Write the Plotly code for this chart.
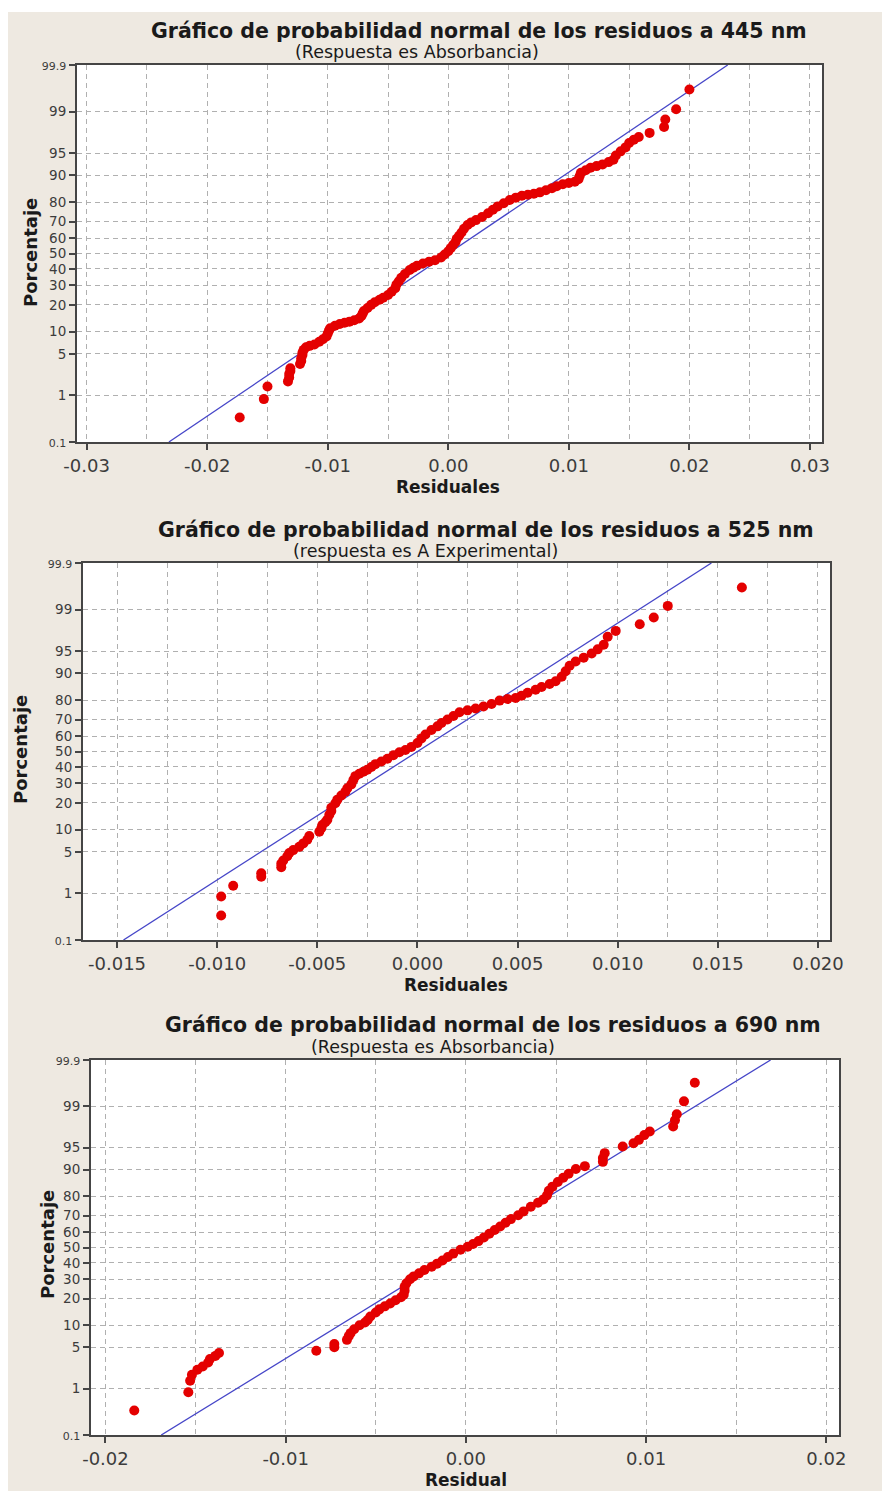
from statistics import NormalDist
import plotly.graph_objects as go

# ---------------------------------------------------------------- data
# Residuals (x) and cumulative percentage (y) for each wavelength
res_445 = [-0.0173, -0.0153, -0.0150, -0.0133, -0.0132, -0.0132, -0.0131, -0.0131, -0.0123, -0.0122,
           -0.0122, -0.0121, -0.0121, -0.0120, -0.0118, -0.0115, -0.0111, -0.0107, -0.0104, -0.0101,
           -0.0100, -0.0099, -0.0098, -0.0094, -0.0090, -0.0086, -0.0082, -0.0078, -0.0074, -0.0072,
           -0.0071, -0.0070, -0.0067, -0.0064, -0.0061, -0.0057, -0.0054, -0.0050, -0.0047, -0.0044,
           -0.0043, -0.0041, -0.0039, -0.0036, -0.0032, -0.0029, -0.0026, -0.0021, -0.0016, -0.0011,
           -0.0006, -0.0003, 0.0000, 0.0002, 0.0004, 0.0006, 0.0007, 0.0009, 0.0011, 0.0013,
           0.0016, 0.0019, 0.0023, 0.0028, 0.0033, 0.0037, 0.0041, 0.0046, 0.0051, 0.0056,
           0.0061, 0.0066, 0.0071, 0.0076, 0.0081, 0.0086, 0.0090, 0.0095, 0.0100, 0.0105,
           0.0108, 0.0109, 0.0110, 0.0114, 0.0118, 0.0123, 0.0128, 0.0133, 0.0137, 0.0139,
           0.0143, 0.0147, 0.0150, 0.0154, 0.0158, 0.0167, 0.0179, 0.0180, 0.0189, 0.0200]
pct_445 = [0.36, 0.85, 1.46, 1.8, 2.1, 2.4, 2.7, 3.0, 3.5, 3.9,
           4.3, 4.8, 5.2, 5.7, 6.2, 6.5, 6.8, 7.4, 8.0, 8.7,
           9.5, 10.3, 11.0, 11.8, 12.4, 12.8, 13.2, 13.7, 14.3, 15.3,
           16.3, 17.3, 18.6, 20.0, 21.2, 22.4, 23.4, 24.8, 26.5, 28.5,
           30.5, 32.5, 34.5, 36.8, 39.3, 40.8, 42.0, 43.5, 44.6, 45.6,
           47.4, 49.3, 51.5, 53.5, 55.5, 57.5, 59.5, 61.5, 63.5, 65.8,
           68.0, 69.5, 70.8, 72.5, 74.5, 76.3, 78.0, 79.5, 81.0, 82.0,
           82.8, 83.2, 83.6, 84.2, 85.0, 85.8, 86.5, 87.2, 87.6, 88.0,
           88.8, 89.8, 90.7, 91.4, 92.0, 92.4, 92.8, 93.3, 93.8, 94.6,
           95.3, 95.9, 96.5, 96.9, 97.2, 97.6, 98.1, 98.6, 99.1, 99.64]

res_525 = [-0.0098, -0.0098, -0.0092, -0.0078, -0.0078, -0.0068, -0.0068, -0.0067, -0.0065, -0.0064,
           -0.0062, -0.0059, -0.0057, -0.0055, -0.0054, -0.0049, -0.0048, -0.00475, -0.0046, -0.0045,
           -0.0044, -0.0043, -0.0043, -0.0041, -0.0040, -0.0038, -0.0036, -0.0035, -0.0033, -0.0032,
           -0.0031, -0.0029, -0.0027, -0.0025, -0.0023, -0.0021, -0.0018, -0.0015, -0.0012, -0.0009,
           -0.0006, -0.0003, 0.0000, 0.0002, 0.0004, 0.0007, 0.0010, 0.0012, 0.0015, 0.0018,
           0.0021, 0.0025, 0.0029, 0.0033, 0.0037, 0.0041, 0.0045, 0.0049, 0.0052, 0.0055,
           0.0059, 0.0062, 0.0066, 0.0069, 0.0072, 0.0074, 0.0076, 0.0079, 0.0083, 0.0087,
           0.0090, 0.0093, 0.0095, 0.0099, 0.0111, 0.0118, 0.0125, 0.0162]
pct_525 = [0.36, 0.87, 1.39, 2.0, 2.3, 2.9, 3.3, 3.7, 4.3, 4.8,
           5.3, 5.9, 6.6, 7.4, 8.3, 9.4, 10.4, 11.4, 12.3, 13.2,
           15.0, 16.5, 17.8, 19.8, 21.5, 23.5, 25.5, 27.3, 29.5, 32.0,
           34.3, 35.8, 37.0, 38.3, 40.0, 41.8, 43.5, 45.3, 47.5, 49.5,
           51.0, 53.0, 55.5, 58.5, 61.0, 63.8, 66.0, 68.0, 70.0, 72.0,
           74.0, 75.0, 76.0, 77.0, 78.2, 79.8, 80.5, 81.0, 82.0, 83.2,
           84.4, 85.5, 86.6, 87.5, 89.0, 90.6, 92.0, 93.0, 93.8, 94.6,
           95.3, 96.0, 97.0, 97.6, 98.15, 98.6, 99.15, 99.64]

res_690 = [-0.0184, -0.0154, -0.0153, -0.0152, -0.0149, -0.0146, -0.0143, -0.0142, -0.0139, -0.0137,
           -0.0083, -0.0073, -0.0073, -0.0066, -0.0065, -0.0064, -0.0062, -0.0059, -0.0056, -0.00545,
           -0.0053, -0.0050, -0.0048, -0.0045, -0.0042, -0.0039, -0.0036, -0.00345, -0.0034, -0.0034,
           -0.0033, -0.0031, -0.0029, -0.0026, -0.0023, -0.0019, -0.0016, -0.0013, -0.0010, -0.0007,
           -0.0003, 0.0001, 0.0004, 0.0007, 0.0010, 0.0013, 0.0016, 0.0019, 0.0022, 0.0025,
           0.0029, 0.0032, 0.0036, 0.0040, 0.0043, 0.0045, 0.0046, 0.0048, 0.0051, 0.0054,
           0.0057, 0.0061, 0.0066, 0.0076, 0.0076, 0.0077, 0.0087, 0.0093, 0.0096, 0.0099,
           0.0102, 0.0115, 0.0116, 0.0117, 0.0121, 0.0127]
pct_690 = [0.36, 0.85, 1.4, 1.8, 2.2, 2.5, 2.9, 3.3, 3.7, 4.1,
           4.45, 5.0, 5.6, 6.4, 7.2, 7.9, 8.9, 10.0, 10.8, 11.6,
           12.8, 14.2, 15.4, 16.6, 17.8, 19.2, 20.6, 21.8, 23.8, 25.8,
           27.8, 30.0, 31.7, 33.5, 35.5, 37.6, 39.5, 41.5, 43.8, 46.0,
           48.5, 50.5, 52.3, 54.2, 56.5, 59.0, 61.3, 63.5, 65.8, 68.0,
           70.2, 72.4, 74.9, 77.0, 78.6, 80.5, 82.5, 84.2, 86.0, 87.5,
           88.8, 90.2, 91.0, 92.1, 93.0, 94.0, 95.2, 95.7, 96.2, 96.8,
           97.2, 97.7, 98.2, 98.6, 99.2, 99.67]

# Fitted normal distribution (mean, standard deviation) of each residual set
fit_445 = (0.0, 0.0075)
fit_525 = (0.0, 0.00475)
fit_690 = (0.0, 0.00547)

# Probability-scale ticks
pct_ticks = [0.1, 1, 5, 10, 20, 30, 40, 50, 60, 70, 80, 90, 95, 99, 99.9]
pct_labels = ["0.1", "1", "5", "10", "20", "30", "40", "50", "60", "70", "80", "90", "95", "99", "99.9"]

x_ticks_445 = [-0.03, -0.02, -0.01, 0.00, 0.01, 0.02, 0.03]
x_labels_445 = ["-0.03", "-0.02", "-0.01", "0.00", "0.01", "0.02", "0.03"]
x_ticks_525 = [-0.015, -0.010, -0.005, 0.000, 0.005, 0.010, 0.015, 0.020]
x_labels_525 = ["-0.015", "-0.010", "-0.005", "0.000", "0.005", "0.010", "0.015", "0.020"]
x_ticks_690 = [-0.02, -0.01, 0.00, 0.01, 0.02]
x_labels_690 = ["-0.02", "-0.01", "0.00", "0.01", "0.02"]

titles = ["Gráfico de probabilidad normal de los residuos a 445 nm",
          "Gráfico de probabilidad normal de los residuos a 525 nm",
          "Gráfico de probabilidad normal de los residuos a 690 nm"]
subtitles = ["(Respuesta es Absorbancia)",
             "(respuesta es A Experimental)",
             "(Respuesta es Absorbancia)"]
x_titles = ["Residuales", "Residuales", "Residual"]
y_title = "Porcentaje"

# ---------------------------------------------------------------- helpers
W, H = 882, 1491
nd = NormalDist()


def z(p):
    return nd.inv_cdf(p / 100.0)


def px(x):
    """pixel x -> paper fraction"""
    return x / W


def py(y):
    """pixel y (from top) -> paper fraction"""
    return 1 - y / H


RED = "#E40000"
BLUE = "#4646C8"
FRAME = "#454545"
GRID = "#b0b0b0"
TXT = "#1a1a1a"
TICKTXT = "#3c3c3c"
BEIGE = "#EEE9E1"
FONT = "DejaVu Sans"

y_tickvals = [z(p) for p in pct_ticks]
y_ticktext = [f"<span style='font-size:11px'>{t}</span>" if t in ("0.1", "99.9") else t
              for t in pct_labels]
z_lo, z_hi = z(0.1), z(99.9)

panels = [
    dict(res=res_445, pct=pct_445, fit=fit_445, xt=x_ticks_445, xl=x_labels_445,
         xr=[-0.0308, 0.0310], minor=0.005, box=(77, 822, 65, 442),
         title=(479, 31), sub=(417, 52), xlab=(448, 487), ylab=(30, 253)),
    dict(res=res_525, pct=pct_525, fit=fit_525, xt=x_ticks_525, xl=x_labels_525,
         xr=[-0.0167, 0.0206], minor=0.0025, box=(83, 830, 563, 940),
         title=(486, 530), sub=(425, 551), xlab=(456, 985), ylab=(20, 750)),
    dict(res=res_690, pct=pct_690, fit=fit_690, xt=x_ticks_690, xl=x_labels_690,
         xr=[-0.0208, 0.0207], minor=0.005, box=(91, 839, 1060, 1435),
         title=(493, 1025), sub=(433, 1047), xlab=(466, 1480), ylab=(47, 1245)),
]

fig = go.Figure()
annotations = []
layout_axes = {}

for i, pnl in enumerate(panels):
    n = i + 1
    xa = "x" if n == 1 else f"x{n}"
    ya = "y" if n == 1 else f"y{n}"
    mu, sd = pnl["fit"]
    # fitted line across the full probability range
    fig.add_trace(go.Scatter(
        x=[mu + sd * z_lo, mu + sd * z_hi], y=[z_lo, z_hi],
        mode="lines", line=dict(color=BLUE, width=1.3),
        xaxis=xa, yaxis=ya, showlegend=False, hoverinfo="skip"))
    fig.add_trace(go.Scatter(
        x=pnl["res"], y=[z(p) for p in pnl["pct"]],
        mode="markers", marker=dict(color=RED, size=10, line=dict(width=0)),
        xaxis=xa, yaxis=ya, showlegend=False))

    x0, x1, y0, y1 = pnl["box"]
    xkey = "xaxis" if n == 1 else f"xaxis{n}"
    ykey = "yaxis" if n == 1 else f"yaxis{n}"
    layout_axes[xkey] = dict(
        domain=[px(x0), px(x1)], anchor=ya, range=pnl["xr"], automargin=False,
        tickmode="array", tickvals=pnl["xt"], ticktext=pnl["xl"],
        ticks="outside", ticklen=6, tickwidth=1.5, tickcolor=FRAME,
        tickfont=dict(family=FONT, size=18, color=TICKTXT),
        showline=True, mirror=True, linecolor=FRAME, linewidth=2,
        showgrid=True, gridcolor=GRID, gridwidth=1, griddash="5px,4px",
        minor=dict(tick0=0, dtick=pnl["minor"], showgrid=True, gridcolor=GRID,
                   gridwidth=1, griddash="5px,4px", ticks=""),
        zeroline=False, fixedrange=True)
    layout_axes[ykey] = dict(
        domain=[py(y1), py(y0)], anchor=xa, range=[z_lo, z_hi], automargin=False,
        tickmode="array", tickvals=y_tickvals, ticktext=y_ticktext,
        ticks="outside", ticklen=6, tickwidth=1.5, tickcolor=FRAME,
        tickfont=dict(family=FONT, size=13.5, color=TICKTXT),
        showline=True, mirror=True, linecolor=FRAME, linewidth=2,
        showgrid=True, gridcolor=GRID, gridwidth=1, griddash="5px,4px",
        zeroline=False, fixedrange=True)

    tx, ty = pnl["title"]
    annotations.append(dict(text=f"<b>{titles[i]}</b>", x=px(tx), y=py(ty), xref="paper", yref="paper",
                            xanchor="center", yanchor="middle", showarrow=False,
                            font=dict(family=FONT, size=20.5, color=TXT)))
    sx, sy = pnl["sub"]
    annotations.append(dict(text=subtitles[i], x=px(sx), y=py(sy), xref="paper", yref="paper",
                            xanchor="center", yanchor="middle", showarrow=False,
                            font=dict(family=FONT, size=17.5, color=TXT)))
    lx, ly = pnl["xlab"]
    annotations.append(dict(text=f"<b>{x_titles[i]}</b>", x=px(lx), y=py(ly), xref="paper", yref="paper",
                            xanchor="center", yanchor="middle", showarrow=False,
                            font=dict(family=FONT, size=17, color=TXT)))
    vx, vy = pnl["ylab"]
    annotations.append(dict(text=f"<b>{y_title}</b>", x=px(vx), y=py(vy), xref="paper", yref="paper",
                            xanchor="center", yanchor="middle", showarrow=False, textangle=-90,
                            font=dict(family=FONT, size=18, color=TXT)))

# thin white border along the top and left edges of the page
shapes = [
    dict(type="rect", xref="paper", yref="paper", x0=0, x1=1, y0=py(12), y1=1,
         fillcolor="white", line=dict(width=0), layer="below"),
    dict(type="rect", xref="paper", yref="paper", x0=0, x1=px(8), y0=0, y1=1,
         fillcolor="white", line=dict(width=0), layer="below"),
]

fig.update_layout(
    width=W, height=H, autosize=False,
    margin=dict(l=0, r=0, t=0, b=0, autoexpand=False),
    paper_bgcolor=BEIGE, plot_bgcolor="white",
    annotations=annotations, shapes=shapes,
    font=dict(family=FONT, color=TXT),
    **layout_axes)

fig.write_html("out.html", config={"displayModeBar": False, "responsive": False})
